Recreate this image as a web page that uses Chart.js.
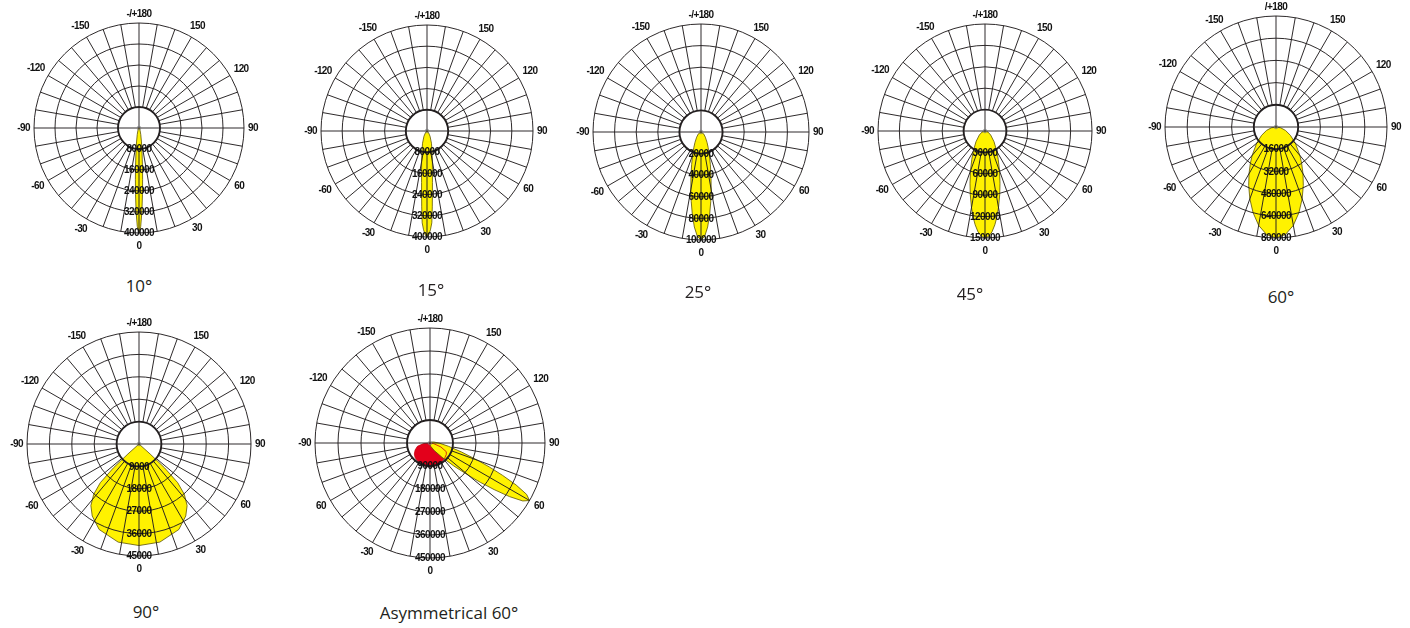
<!DOCTYPE html>
<html>
<head>
<meta charset="utf-8">
<script src="https://cdn.jsdelivr.net/npm/chart.js@4.4.1/dist/chart.umd.min.js"></script>
<style>
  html, body { margin: 0; padding: 0; background: #fff; }
  body { width: 1410px; height: 628px; position: relative; overflow: hidden; }
  canvas { position: absolute; }
  .cap { position: absolute; transform: translate(-50%, -50%); font-family: "Open Sans", sans-serif;
         font-size: 17px; color: #231f20; white-space: nowrap; }
</style>
</head>
<body>
<script>
// Angles in degrees: 0 = straight down, negative = left half, positive = right half.
const angleLabels = ['0', '-30', '-60', '-90', '-120', '-150', '-/+180', '150', '120', '90', '60', '30'];
const angleLabels60 = ['0', '-30', '-60', '-90', '-120', '-150', '/+180', '150', '120', '90', '60', '30'];
const angleLabelsAsym = ['0', '-30', '60', '-90', '-120', '-150', '-/+180', '150', '120', '90', '60', '30'];

// 10°
const beam10Max = 400000;
const beam10Rings = ['80000', '160000', '240000', '320000', '400000'];
const beam10Angles = [-90, -40, -25, -15, -10, -7, -5, -4, -3, -2, -1, 0, 1, 2, 3, 4, 5, 7, 10, 15, 25, 40, 90];
const beam10Values = [0, 3500, 9400, 26000, 54000, 96000, 153000, 197000, 253000, 318000, 375000, 400000,
                      375000, 318000, 253000, 197000, 153000, 96000, 54000, 26000, 9400, 3500, 0];

// 15°
const beam15Max = 400000;
const beam15Rings = ['80000', '160000', '240000', '320000', '400000'];
const beam15Angles = [-90, -45, -30, -20, -14, -10, -8, -6, -5, -4, -3, -2, -1, 0, 1, 2, 3, 4, 5, 6, 8, 10, 14, 20, 30, 45, 90];
const beam15Values = [0, 7500, 23000, 49000, 79000, 117000, 147000, 196000, 234000, 287000, 347000, 373000, 392000, 400000,
                      392000, 373000, 347000, 287000, 234000, 196000, 147000, 117000, 79000, 49000, 23000, 7500, 0];

// 25°
const beam25Max = 100000;
const beam25Rings = ['20000', '40000', '60000', '80000', '100000'];
const beam25Angles = [-90, -55, -40, -30, -25, -20, -16, -13, -10, -8, -6, -4, -2, 0, 2, 4, 6, 8, 10, 13, 16, 20, 25, 30, 40, 55, 90];
const beam25Values = [0, 3000, 6300, 11200, 15600, 22600, 31500, 41200, 54300, 65000, 76800, 88200, 96800, 100000,
                      96800, 88200, 76800, 65000, 54300, 41200, 31500, 22600, 15600, 11200, 6300, 3000, 0];

// 45°
const beam45Max = 150000;
const beam45Rings = ['30000', '60000', '90000', '120000', '150000'];
const beam45Angles = [-90, -70, -55, -40, -30, -25, -20, -16, -13, -10, -8, -6, -4, -2, 0,
                      2, 4, 6, 8, 10, 13, 16, 20, 25, 30, 40, 55, 70, 90];
const beam45Values = [0, 4500, 9700, 19700, 33100, 43900, 59400, 76300, 91700, 109100, 121100, 132200, 141600, 147800, 150000,
                      147800, 141600, 132200, 121100, 109100, 91700, 76300, 59400, 43900, 33100, 19700, 9700, 4500, 0];

// 60°
const beam60Max = 800000;
const beam60Rings = ['16000', '32000', '480000', '640000', '800000'];
const beam60Angles = [-90, -80, -70, -60, -50, -40, -35, -30, -25, -20, -15, -10, -5, 0,
                      5, 10, 15, 20, 25, 30, 35, 40, 50, 60, 70, 80, 90];
const beam60Values = [0, 34600, 73000, 120000, 182000, 268000, 323000, 389000, 466000, 551000, 639000, 720000, 778000, 800000,
                      778000, 720000, 639000, 551000, 466000, 389000, 323000, 268000, 182000, 120000, 73000, 34600, 0];

// 90°
const beam90Max = 45000;
const beam90Rings = ['9000', '18000', '27000', '36000', '45000'];
const beam90Angles = [-50, -48, -47, -45, -42, -38, -33, -25, -12, 0, 12, 25, 33, 38, 42, 45, 47, 48, 50];
const beam90Values = [0, 6000, 14000, 22000, 27200, 31400, 34500, 37900, 40300, 40800,
                      40300, 37900, 34500, 31400, 27200, 22000, 14000, 6000, 0];

// Asymmetrical 60°
const asymMax = 450000;
const asymRings = ['90000', '180000', '270000', '360000', '450000'];
const asymLobeAngles = [0, 15, 30, 40, 46, 50, 52, 54, 56, 58, 60, 62, 64, 66, 68, 70, 74, 80, 90, 105, 120];
const asymLobeValues = [7000, 15000, 35000, 73000, 129000, 199000, 250000, 310000, 375000, 428000, 450000,
                        428000, 375000, 310000, 250000, 199000, 129000, 73000, 35000, 15000, 7000];
const asymRedAngles = [-90, -85, -75, -65, -55, -45, -30, -15, 0, 15, 30, 45, 55, 62, 70, 80, 90];
const asymRedValues = [0, 25000, 51000, 64000, 75000, 82000, 88000, 92000, 94000, 92000, 88000, 82000, 78000, 72000, 45000, 15000, 0];

const YELLOW = '#fff200';
const YELLOW_LINE = '#5c5300';
const RED = '#e3001b';
const RED_LINE = '#c8000f';
const INK = '#231f20';
const MARGIN = 28;

// one radar category per degree, index 0 at the bottom, going clockwise
const degreeLabels = Array.from({ length: 360 }, (_, i) => String(i));

function toIndex(a) { return a <= 0 ? -a : 360 - a; }

function radarData(angles, values) {
  const d = new Array(360).fill(null);
  angles.forEach((a, i) => { d[toIndex(a)] = values[i]; });
  return d;
}

function makeFrame(labels, rings) {
  return {
    id: 'polarFrame',
    afterDraw(chart) {
      const s = chart.scales.r;
      const ctx = chart.ctx;
      const inner = s.getDistanceFromCenterForValue(s.ticks[1].value);
      const outer = s.drawingArea;
      ctx.save();
      ctx.strokeStyle = INK;
      ctx.lineWidth = 0.95;
      // spokes every 10 degrees, only the axes cross the inner circle
      for (let i = 0; i < 360; i += 10) {
        const full = (i === 90 || i === 180 || i === 270);
        const a = s.getPointPosition(i, full ? 0 : inner);
        const b = s.getPointPosition(i, outer);
        ctx.beginPath();
        ctx.moveTo(a.x, a.y);
        ctx.lineTo(b.x, b.y);
        ctx.stroke();
      }
      ctx.beginPath();
      ctx.arc(s.xCenter, s.yCenter, 1.8, 0, Math.PI * 2);
      ctx.strokeStyle = '#777';
      ctx.lineWidth = 0.8;
      ctx.stroke();

      ctx.font = 'bold 10px "Liberation Sans", Arial, sans-serif';
      ctx.letterSpacing = '-0.6px';
      ctx.fillStyle = '#111';
      ctx.textAlign = 'center';
      ctx.textBaseline = 'middle';
      labels.forEach((t, k) => {
        const idx = k * 30;
        const ang = s.getPointPosition(idx, 1).angle;
        const w = ctx.measureText(t).width;
        const ext = Math.abs(Math.cos(ang)) * w / 2 + Math.abs(Math.sin(ang)) * 5;
        // the bottom "0" sits a little lower, clear of the last ring value
        const p = s.getPointPosition(idx, outer + (idx === 0 ? 8 : 4) + ext);
        ctx.fillText(t, p.x, p.y);
      });
      rings.forEach((t, k) => {
        const p = s.getPointPosition(0, s.getDistanceFromCenterForValue(s.ticks[k + 1].value));
        ctx.fillText(t, p.x, p.y + 0.5);
      });
      ctx.restore();
    }
  };
}

function polar(cx, cy, R, max, labels, rings, datasets) {
  const c = document.createElement('canvas');
  const size = 2 * (R + MARGIN);
  c.width = size;
  c.height = size;
  c.style.left = (cx - R - MARGIN) + 'px';
  c.style.top = (cy - R - MARGIN) + 'px';
  document.body.appendChild(c);
  new Chart(c, {
    type: 'radar',
    data: { labels: degreeLabels, datasets: datasets },
    options: {
      responsive: false,
      animation: false,
      layout: { padding: MARGIN },
      plugins: {
        legend: { display: false },
        tooltip: { enabled: false },
        filler: { drawTime: 'beforeDatasetsDraw' }
      },
      elements: {
        point: { radius: 0, hoverRadius: 0 },
        line: { tension: 0, borderWidth: 0.8 }
      },
      scales: {
        r: {
          min: 0,
          max: max,
          startAngle: 180,
          ticks: { display: false, stepSize: max / 5, z: 1 },
          grid: { circular: true, color: INK, z: 1, lineWidth: (ctx) => ctx.index === 1 ? 1.9 : 0.95 },
          angleLines: { display: false },
          pointLabels: { display: false }
        }
      }
    },
    plugins: [makeFrame(labels, rings)]
  });
}

function beam(angles, values, fill, line) {
  return { data: radarData(angles, values), backgroundColor: fill, borderColor: line, fill: true, spanGaps: true };
}

function caption(text, x, y) {
  const d = document.createElement('div');
  d.className = 'cap';
  d.style.left = x + 'px';
  d.style.top = y + 'px';
  d.textContent = text;
  document.body.appendChild(d);
}

polar(139, 128, 105, beam10Max, angleLabels, beam10Rings, [beam(beam10Angles, beam10Values, YELLOW, YELLOW_LINE)]);
polar(427, 131, 106, beam15Max, angleLabels, beam15Rings, [beam(beam15Angles, beam15Values, YELLOW, YELLOW_LINE)]);
polar(701, 132, 108, beam25Max, angleLabels, beam25Rings, [beam(beam25Angles, beam25Values, YELLOW, YELLOW_LINE)]);
polar(985, 131, 107, beam45Max, angleLabels, beam45Rings, [beam(beam45Angles, beam45Values, YELLOW, YELLOW_LINE)]);
polar(1276, 127, 111, beam60Max, angleLabels60, beam60Rings, [beam(beam60Angles, beam60Values, YELLOW, YELLOW_LINE)]);
polar(139, 444, 112, beam90Max, angleLabels, beam90Rings, [beam(beam90Angles, beam90Values, YELLOW, YELLOW_LINE)]);
polar(430, 443, 115, asymMax, angleLabelsAsym, asymRings, [
  beam(asymLobeAngles, asymLobeValues, YELLOW, YELLOW_LINE),
  beam(asymRedAngles, asymRedValues, RED, RED_LINE)
]);

caption('10°', 139, 285);
caption('15°', 431, 289);
caption('25°', 698, 291);
caption('45°', 970, 293);
caption('60°', 1281, 296);
caption('90°', 146, 611);
caption('Asymmetrical 60°', 449, 612);
</script>
</body>
</html>
